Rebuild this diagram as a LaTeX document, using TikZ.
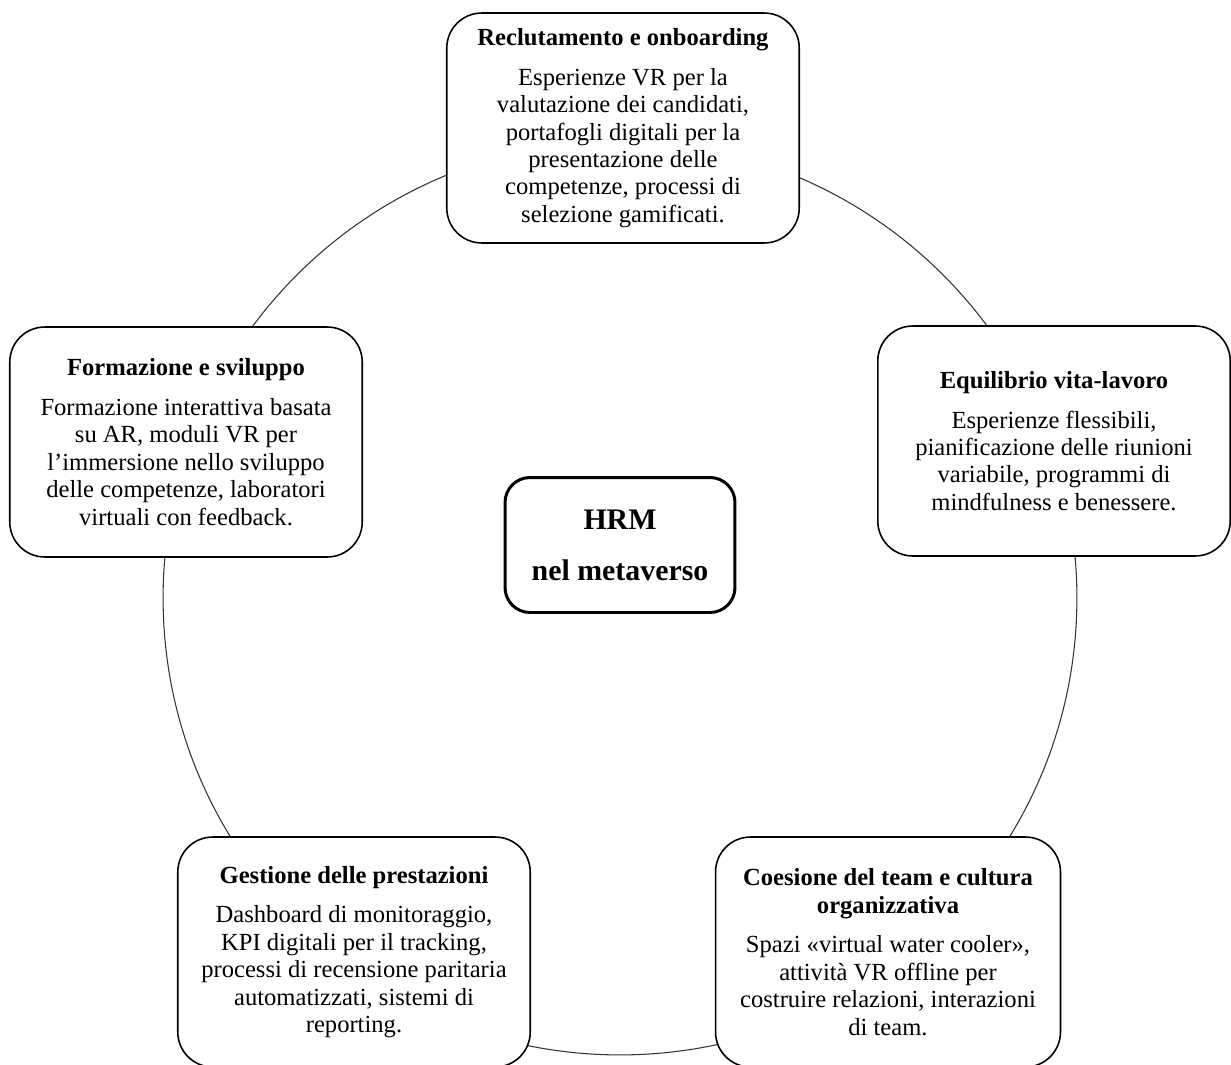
\documentclass[tikz,border=0pt]{standalone}
\usepackage{fontspec}
\setmainfont{Liberation Serif}

\begin{document}
\begin{tikzpicture}[x=0.02cm, y=-0.02cm,
    area/.style={draw, line width=0.9pt, rounded corners=0.7cm, fill=white, align=center,
        inner sep=0pt, minimum width=7.05cm, minimum height=4.6cm,
        font=\fontsize{14}{15.6}\selectfont},
    hub/.style={draw, line width=1.7pt, rounded corners=0.5cm, fill=white, align=center,
        inner sep=0pt, minimum width=4.6cm, minimum height=2.7cm,
        font=\fontsize{17}{20}\selectfont\bfseries},
    ring/.style={draw, line width=0.6pt, black!80}]
    \useasboundingbox (0,0) rectangle (1231,1065);

    % Cycle behind the boxes
    \coordinate (ringc) at (620,598);
    \draw[ring] (ringc) circle[radius=9.14cm];

    % Centre
    \node[hub] (hrm) at (620,545) {HRM\\[9pt]nel metaverso};

    % Areas round the cycle
    \node[area] (recruit) at (623,128) {\textbf{Reclutamento e onboarding}\\[7pt]
        Esperienze VR per la\\ valutazione dei candidati,\\ portafogli digitali per la\\
        presentazione delle\\ competenze, processi di\\ selezione gamificati.};
    \node[area] (balance) at (1054,441) {\textbf{Equilibrio vita-lavoro}\\[7pt]
        Esperienze flessibili,\\ pianificazione delle riunioni\\ variabile, programmi di\\
        mindfulness e benessere.};
    \node[area, minimum width=6.9cm] (team) at (888,952) {\textbf{Coesione del team e cultura}\\
        \textbf{organizzativa}\\[7pt]
        Spazi «virtual water cooler»,\\ attività VR offline per\\ costruire relazioni, interazioni\\
        di team.};
    \node[area] (perf) at (354,952) {\textbf{Gestione delle prestazioni}\\[7pt]
        Dashboard di monitoraggio,\\ KPI digitali per il tracking,\\ processi di recensione paritaria\\
        automatizzati, sistemi di\\ reporting.};
    \node[area] (train) at (186,442) {\textbf{Formazione e sviluppo}\\[7pt]
        Formazione interattiva basata\\ su AR, moduli VR per\\ l'immersione nello sviluppo\\
        delle competenze, laboratori\\ virtuali con feedback.};
\end{tikzpicture}
\end{document}
